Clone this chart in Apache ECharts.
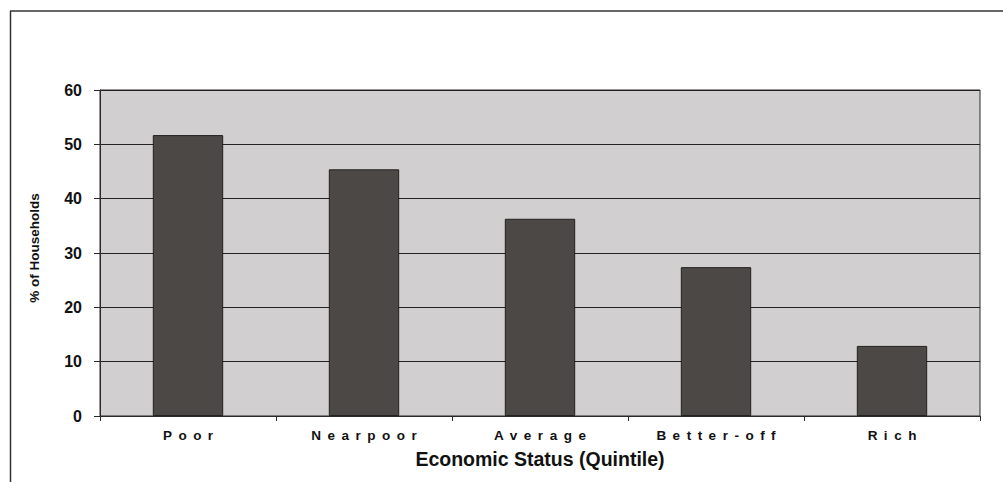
<!DOCTYPE html>
<html>
<head>
<meta charset="utf-8">
<script src="https://cdn.jsdelivr.net/npm/echarts@6/dist/echarts.min.js"></script>
<style>
  html, body { margin: 0; padding: 0; background: #fff; }
  #chart { width: 1003px; height: 482px; }
</style>
</head>
<body>
<div id="chart"></div>
<script>
const categories = ['Poor', 'Nearpoor', 'Average', 'Better-off', 'Rich'];
const households = [51.7, 45.4, 36.3, 27.4, 12.9];
const yTicks = [0, 10, 20, 30, 40, 50, 60];
const yTitle = '% of Households';
const xTitle = 'Economic Status (Quintile)';

const chart = echarts.init(document.getElementById('chart'), null, { renderer: 'svg' });
const FONT = 'Liberation Sans, Arial, sans-serif';
chart.setOption({
  animation: false,
  backgroundColor: '#ffffff',
  grid: {
    left: 100, right: 23, top: 90, bottom: 66,
    show: true, backgroundColor: '#d1cfd0', borderColor: '#2a2a2a', borderWidth: 1
  },
  graphic: [
    { type: 'line', shape: { x1: 10.5, y1: 11, x2: 10.5, y2: 482 }, style: { stroke: '#333', lineWidth: 1.5 } },
    { type: 'line', shape: { x1: 10, y1: 11, x2: 1003, y2: 11 }, style: { stroke: '#333', lineWidth: 1.5 } },
    { type: 'text', x: 34, y: 248, rotation: Math.PI / 2,
      style: { text: yTitle, font: 'bold 13.5px ' + FONT, fill: '#111', textAlign: 'center', textVerticalAlign: 'middle' } }
  ],
  xAxis: {
    type: 'category',
    data: categories,
    axisLine: { show: true, lineStyle: { color: '#2a2a2a', width: 1 } },
    axisTick: { show: true, length: 5, lineStyle: { color: '#2a2a2a' } },
    axisLabel: { fontFamily: FONT, fontWeight: 'bold', fontSize: 13.5, color: '#111', margin: 12 },
    name: xTitle,
    nameLocation: 'middle',
    nameGap: 33,
    nameTextStyle: { fontFamily: FONT, fontWeight: 'bold', fontSize: 19.5, color: '#111' }
  },
  yAxis: {
    type: 'value',
    min: yTicks[0], max: yTicks[yTicks.length - 1], interval: 10,
    axisLine: { show: true, lineStyle: { color: '#2a2a2a', width: 1 } },
    axisTick: { show: true, length: 6, lineStyle: { color: '#2a2a2a' } },
    axisLabel: { fontFamily: FONT, fontWeight: 'bold', fontSize: 16, color: '#111', margin: 18 },
    splitLine: { show: true, lineStyle: { color: '#222', width: 1 } }
  },
  series: [{
    type: 'bar',
    data: households,
    barWidth: '40%',
    itemStyle: { color: '#4c4845', borderColor: '#222', borderWidth: 1 }
  }]
});

function spaceLabels() {
  const texts = document.querySelectorAll('#chart text');
  texts.forEach(t => {
    if (categories.includes(t.textContent)) {
      t.setAttribute('letter-spacing', '6.5');
      t.style.letterSpacing = '6.5px';
      t.setAttribute('dx', '3.25');
    }
  });
}
chart.on('finished', spaceLabels);
spaceLabels();
</script>
</body>
</html>
